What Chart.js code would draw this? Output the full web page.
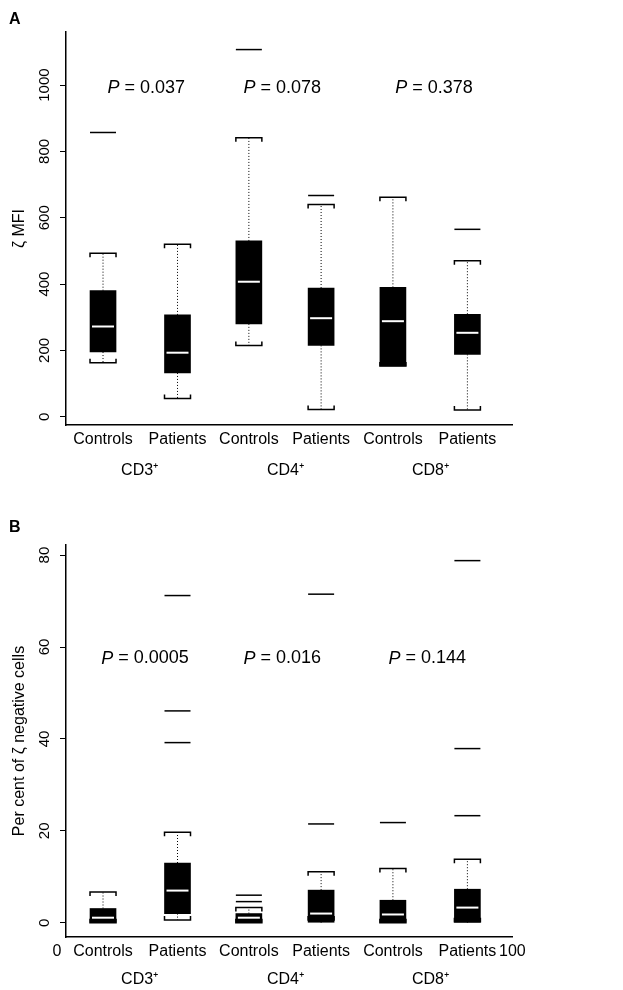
<!DOCTYPE html>
<html>
<head>
<meta charset="utf-8">
<script src="https://cdn.jsdelivr.net/npm/chart.js@4"></script>
<style>
body { margin: 0; background: #fff; }
canvas { position: absolute; left: 0; }
#a { top: 0; }
#b { top: 490px; }
</style>
</head>
<body>
<canvas id="a" width="623" height="490"></canvas>
<canvas id="b" width="623" height="500"></canvas>
<script>
var FONT = '"Liberation Sans", Arial, sans-serif';
var groupNames = ['Controls', 'Patients', 'Controls', 'Patients', 'Controls', 'Patients'];
var groupX = [8.3, 25, 41, 57.2, 73.3, 90];
var cellTypes = ['CD3\u207A', 'CD4\u207A', 'CD8\u207A'];
var cellTypeX = [16.5, 49.2, 81.7];

// panel A: zeta MFI
var mfiTicks = [0, 200, 400, 600, 800, 1000];
var mfiQ1 = [195, 132, 280, 215, 153, 188];
var mfiMedian = [272, 193, 407, 297, 288, 253];
var mfiQ3 = [380, 307, 530, 388, 390, 309];
var mfiLow = [163, 55, 215, 22, 153, 20];
var mfiHigh = [493, 520, 841, 640, 662, 470];
var mfiOutliers = [[857], [], [1107], [667], [], [565]];
var mfiP = ['0.037', '0.078', '0.378'];

// panel B: per cent of zeta negative cells
var negTicks = [0, 20, 40, 60, 80];
var negQ1 = [0, 2.0, 0, 0, 0, 0];
var negMedian = [1.1, 7.0, 1.1, 2.0, 1.8, 3.3];
var negQ3 = [3.1, 13.0, 2.0, 7.1, 4.9, 7.3];
var negLow = [0, 0.6, 0, 0.6, 0, 0.2];
var negHigh = [6.7, 19.7, 3.3, 11.1, 11.8, 13.8];
var negOutliers = [[], [71.2, 46.1, 39.2], [4.6, 6.0], [21.5, 71.5], [21.8], [23.3, 37.9, 78.8]];
var negP = ['0.0005', '0.016', '0.144'];

function boxPlugin(cfg) {
	return {
		id: 'boxes',
		afterDatasetsDraw: function(chart) {
			var ctx = chart.ctx, x = chart.scales.x, y = chart.scales.y;
			var hw = 13;
			ctx.save();
			for (var i = 0; i < groupX.length; i++) {
				var cx = x.getPixelForValue(groupX[i]);
				var pq1 = y.getPixelForValue(cfg.q1[i]), pq3 = y.getPixelForValue(cfg.q3[i]);
				var pl = y.getPixelForValue(cfg.low[i]), ph = y.getPixelForValue(cfg.high[i]);
				// dotted whiskers
				ctx.strokeStyle = '#000';
				ctx.lineWidth = 1;
				ctx.setLineDash([1, 2]);
				ctx.beginPath();
				ctx.moveTo(cx, pq3); ctx.lineTo(cx, ph);
				ctx.moveTo(cx, pq1); ctx.lineTo(cx, pl);
				ctx.stroke();
				ctx.setLineDash([]);
				// caps
				ctx.lineWidth = 1.5;
				ctx.beginPath();
				ctx.moveTo(cx - hw, ph + 4); ctx.lineTo(cx - hw, ph); ctx.lineTo(cx + hw, ph); ctx.lineTo(cx + hw, ph + 4);
				ctx.moveTo(cx - hw, pl - 4); ctx.lineTo(cx - hw, pl); ctx.lineTo(cx + hw, pl); ctx.lineTo(cx + hw, pl - 4);
				ctx.stroke();
				// outliers
				cfg.outliers[i].forEach(function(v) {
					var py = y.getPixelForValue(v);
					ctx.beginPath();
					ctx.moveTo(cx - hw, py); ctx.lineTo(cx + hw, py);
					ctx.stroke();
				});
				// median
				var pm = y.getPixelForValue(cfg.median[i]);
				ctx.strokeStyle = '#fff';
				ctx.lineWidth = 2;
				ctx.beginPath();
				ctx.moveTo(cx - hw + 2, pm); ctx.lineTo(cx + hw - 2, pm);
				ctx.stroke();
			}
			ctx.restore();
		},
		afterDraw: function(chart) {
			var ctx = chart.ctx, x = chart.scales.x, y = chart.scales.y;
			ctx.save();
			ctx.fillStyle = '#000';
			// y tick labels, rotated
			ctx.font = '15px ' + FONT;
			ctx.textAlign = 'center';
			ctx.textBaseline = 'middle';
			cfg.ticks.forEach(function(v) {
				ctx.save();
				ctx.translate(45, y.getPixelForValue(v));
				ctx.rotate(-Math.PI / 2);
				ctx.fillText(String(v), 0, 0);
				ctx.restore();
			});
			// y title
			ctx.save();
			ctx.font = '16px ' + FONT;
			ctx.translate(20, (y.top + y.bottom) / 2 + cfg.titleShift);
			ctx.rotate(-Math.PI / 2);
			ctx.fillText(cfg.title, 0, 0);
			ctx.restore();
			// category labels
			ctx.font = '16px ' + FONT;
			groupNames.forEach(function(n, i) {
				ctx.fillText(n, x.getPixelForValue(groupX[i]), cfg.row1);
			});
			cellTypes.forEach(function(n, i) {
				ctx.fillText(n, x.getPixelForValue(cellTypeX[i]), cfg.row2);
			});
			if (cfg.ends) {
				ctx.fillText('0', x.getPixelForValue(0) - 9, cfg.row1);
				ctx.textAlign = 'left';
				ctx.fillText('100', x.getPixelForValue(100) - 13, cfg.row1);
			}
			// P values
			ctx.textAlign = 'left';
			cfg.p.forEach(function(p, i) {
				var cx = x.getPixelForValue(cfg.pX[i]);
				ctx.font = 'italic 18px ' + FONT;
				var w1 = ctx.measureText('P').width;
				ctx.font = '18px ' + FONT;
				var rest = ' = ' + p;
				var w2 = ctx.measureText(rest).width;
				var sx = cx - (w1 + w2) / 2;
				ctx.font = 'italic 18px ' + FONT;
				ctx.fillText('P', sx, y.getPixelForValue(cfg.pY));
				ctx.font = '18px ' + FONT;
				ctx.fillText(rest, sx + w1, y.getPixelForValue(cfg.pY));
			});
			// panel letter
			ctx.font = 'bold 16px ' + FONT;
			ctx.fillText(cfg.letter, 9, cfg.letterY);
			ctx.restore();
		}
	};
}

function makeChart(id, cfg) {
	var boxes = groupX.map(function(gx, i) { return {x: gx, y: [cfg.q1[i], cfg.q3[i]]}; });
	return new Chart(document.getElementById(id), {
		type: 'bar',
		data: {datasets: [{data: boxes, backgroundColor: '#000', borderWidth: 0, barThickness: 26}]},
		options: {
			responsive: false,
			animation: false,
			layout: {padding: {left: 0, right: 111, top: cfg.top, bottom: 0}},
			plugins: {legend: {display: false}, tooltip: {enabled: false}},
			scales: {
				x: {
					type: 'linear', min: 0, max: 100, offset: false,
					grid: {display: false},
					border: {color: '#000', width: 1.5},
					ticks: {display: false},
					afterFit: function(s) { s.height = cfg.xHeight; }
				},
				y: {
					min: cfg.min, max: cfg.max,
					afterBuildTicks: function(s) { s.ticks = cfg.ticks.map(function(v) { return {value: v}; }); },
					grid: {display: true, drawOnChartArea: false, drawTicks: true, tickLength: 6, color: '#000'},
					border: {color: '#000', width: 1.5},
					ticks: {display: false},
					afterFit: function(s) { s.width = 66; }
				}
			}
		},
		plugins: [boxPlugin(cfg)]
	});
}

makeChart('a', {
	q1: mfiQ1, median: mfiMedian, q3: mfiQ3, low: mfiLow, high: mfiHigh, outliers: mfiOutliers,
	ticks: mfiTicks, min: -25, max: 1160, top: 32, xHeight: 65,
	title: '\u03B6 MFI', titleShift: 0, row1: 440, row2: 471,
	p: mfiP, pX: [18, 48.5, 82.5], pY: 990, letter: 'A', letterY: 20, ends: false
});
makeChart('b', {
	q1: negQ1, median: negMedian, q3: negQ3, low: negLow, high: negHigh, outliers: negOutliers,
	ticks: negTicks, min: -3.1, max: 82.2, top: 55, xHeight: 53,
	title: 'Per cent of \u03B6 negative cells', titleShift: 0, row1: 462, row2: 490,
	p: negP, pX: [17.7, 48.5, 81], pY: 57.5, letter: 'B', letterY: 38, ends: true
});
</script>
</body>
</html>
